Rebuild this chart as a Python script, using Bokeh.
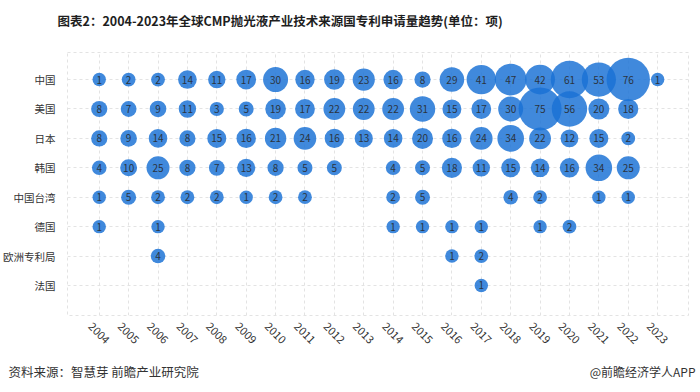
import math
from bokeh.plotting import figure
from bokeh.models import ColumnDataSource, FixedTicker, Range1d, LinearAxis
from bokeh.core.properties import value
from bokeh.layouts import column
from bokeh.embed import file_html
from bokeh.resources import INLINE

years = list(range(2004, 2024))
countries = ["中国", "美国", "日本", "韩国", "中国台湾", "德国", "欧洲专利局", "法国"]

china   = [1, 2, 2, 14, 11, 17, 30, 16, 19, 23, 16, 8, 29, 41, 47, 42, 61, 53, 76, 1]
usa     = [8, 7, 9, 11, 3, 5, 19, 17, 22, 22, 22, 31, 15, 17, 30, 75, 56, 20, 18, None]
japan   = [8, 9, 14, 8, 15, 16, 21, 24, 16, 13, 14, 20, 16, 24, 34, 22, 12, 15, 2, None]
korea   = [4, 10, 25, 8, 7, 13, 8, 5, 5, None, 4, 5, 18, 11, 15, 14, 16, 34, 25, None]
taiwan  = [1, 5, 2, 2, 2, 1, 2, 2, None, None, 2, 5, None, None, 4, 2, None, 1, 1, None]
germany = [1, None, 1, None, None, None, None, None, None, None, 1, 1, 1, 1, None, 1, 2, None, None, None]
epo     = [None, None, 4, None, None, None, None, None, None, None, None, None, 1, 2, None, None, None, None, None, None]
france  = [None, None, None, None, None, None, None, None, None, None, None, None, None, 1, None, None, None, None, None, None]

series = [china, usa, japan, korea, taiwan, germany, epo, france]

title_text = "图表2：2004-2023年全球CMP抛光液产业技术来源国专利申请量趋势(单位：项)"
source_text = "资料来源：智慧芽 前瞻产业研究院"
brand_text = "@前瞻经济学人APP"

FONT = "Noto Sans CJK SC"
W = 700

xs, ys, sizes, labels = [], [], [], []
n = len(countries)
for i, row in enumerate(series):
    for yr, v in zip(years, row):
        if v is None:
            continue
        xs.append(yr)
        ys.append(n - i)
        sizes.append(13 + 0.4 * v)
        labels.append(str(v))

src = ColumnDataSource(dict(x=xs, y=ys, size=sizes, label=labels))


def no_align(f):
    try:
        f.frame_align = False
    except Exception:
        pass


def text_strip(height):
    f = figure(width=W, height=height, output_backend="svg", toolbar_location=None,
               x_range=Range1d(0, W), y_range=Range1d(0, height),
               x_axis_type=None, y_axis_type=None, min_border=0)
    f.outline_line_color = None
    f.xgrid.visible = False
    f.ygrid.visible = False
    no_align(f)
    return f


# header
head = text_strip(40)
head.text(x=[57], y=[20], text=[title_text], text_font=value(FONT), text_font_size="12.5px",
          text_font_style="bold", text_color="#1e1e1e", text_baseline="middle",
          text_align="left")

# main chart
p = figure(width=W, height=320, output_backend="svg", toolbar_location=None,
           x_range=Range1d(2002.92, 2024.05), y_range=Range1d(-0.02, 8.92),
           min_border_left=63, min_border_right=12, min_border_top=12, min_border_bottom=45)
no_align(p)

p.scatter("x", "y", size="size", source=src, fill_color="#1971d5", fill_alpha=0.83,
          line_color=None)
p.text("x", "y", text="label", source=src, text_align="center", text_baseline="middle",
       text_font_size="10px", text_color="#2b3440", text_font=value(FONT))

p.xaxis.visible = False
p.extra_x_ranges = {"lab": Range1d(2002.92 + 0.3, 2024.05 + 0.3)}
xax = LinearAxis(x_range_name="lab", ticker=FixedTicker(ticks=years))
p.add_layout(xax, "below")
xax.major_label_orientation = -math.pi / 4
xax.major_label_standoff = 3

p.yaxis.ticker = FixedTicker(ticks=list(range(1, n + 1)))
p.yaxis.major_label_overrides = {n - i: c for i, c in enumerate(countries)}
p.yaxis.major_label_standoff = 6
for ax in (xax, p.yaxis[0]):
    ax.axis_line_color = None
    ax.major_tick_line_color = None
    ax.minor_tick_line_color = None
    ax.major_label_text_font = FONT
    ax.major_label_text_color = "#333333"
xax.major_label_text_font_size = "11px"
p.yaxis.major_label_text_font_size = "10.5px"

p.xgrid.ticker = FixedTicker(ticks=years)
p.xgrid.grid_line_color = "#e3e3e3"
p.xgrid.grid_line_dash = "3 3"
p.ygrid.grid_line_color = "#e3e3e3"
p.ygrid.grid_line_dash = "3 3"
p.outline_line_color = "#e3e3e3"
p.outline_line_dash = "3 3"

# footer
foot = text_strip(32)
foot.text(x=[8], y=[21], text=[source_text], text_font=value(FONT), text_font_size="12.5px",
          text_color="#333333", text_baseline="middle", text_align="left")
foot.text(x=[695], y=[21], text=[brand_text], text_font=value(FONT), text_font_size="12px",
          text_color="#333333", text_baseline="middle", text_align="right")

layout = column(head, p, foot, spacing=0)
open("out.html", "w").write(file_html(layout, INLINE))
